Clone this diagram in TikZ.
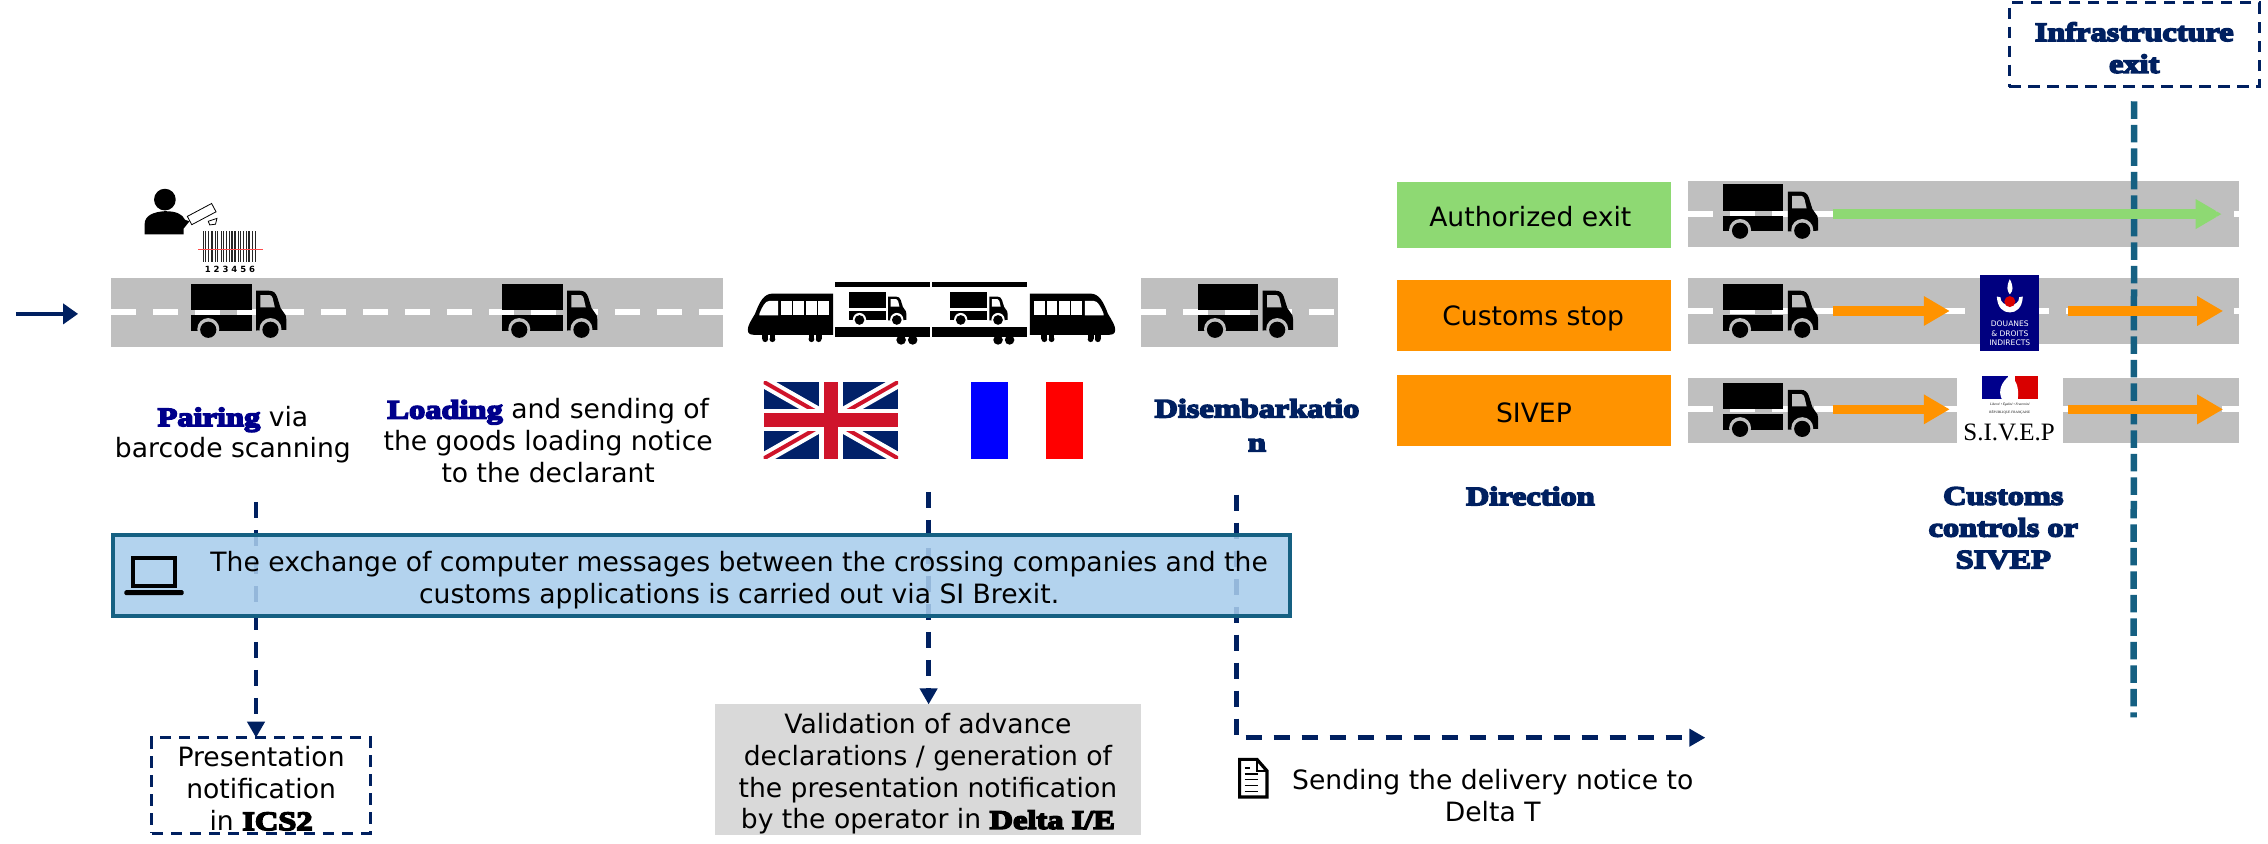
\documentclass[tikz,border=0pt]{standalone}
\usepackage{fontspec}
\setmainfont{DejaVu Sans}
\newfontfamily\fatraw[FakeStretch=1.22,BoldFeatures={FakeBold=6}]{Liberation Serif}
\newfontfamily\sivepfont{Liberation Serif}
\newcommand{\fatf}{\fatraw\bfseries}
\usetikzlibrary{arrows.meta}
\definecolor{navy}{HTML}{002060}
\definecolor{kwblue}{HTML}{00008B}
\definecolor{teal}{HTML}{156082}
\definecolor{roadgray}{HTML}{BFBFBF}
\definecolor{boxblue}{HTML}{A9CDEC}
\definecolor{lgray}{HTML}{D9D9D9}
\definecolor{okgreen}{HTML}{8ED973}
\definecolor{stoporange}{HTML}{FF9300}
\definecolor{douane}{HTML}{00007F}
\definecolor{ukblue}{HTML}{012169}
\definecolor{ukred}{HTML}{CF142B}
\tikzset{
  wh/.style 2 args={minimum width=#1*1.4464pt,minimum height=#2*1.4464pt,inner sep=0pt,outer sep=0pt},
  body/.style={font=\fontsize{26.6}{31.8}\selectfont,align=center,text=black},
  title/.style={font=\fontsize{26.5}{31.8}\fatf,align=center,text=navy},
  road/.style={fill=roadgray},
  lane/.style={draw=white,line width=6pt,dash pattern=on 24.5pt off 17.5pt},
  navydash/.style={draw=navy,line width=4.5pt,dash pattern=on 16pt off 12pt,-{Triangle[length=16pt,width=17pt]}},
  dashbox/.style={draw=navy,line width=3pt,dash pattern=on 11.5pt off 7.5pt},
  fatarrow/.style={line width=9.5pt,-{Triangle[length=26pt,width=28pt]}},
  pics/truck/.style={code={
    \fill[black] (0,0) rectangle (42,18.5);
    \fill[black] (0,22) rectangle (42,32.5);
    \fill[black] (45,5) -- (54,5) .. controls (57,5) and (58.5,6.5) .. (59.5,9) -- (62,17) -- (65.5,22) -- (66,25) -- (66,32) -- (45,32.5) -- cycle;
    \fill[#1] (48,8) -- (54.5,8) .. controls (55.5,8) and (56,9) .. (56.5,10) -- (58,16.5) -- (48,16.5) -- cycle;
    \fill[#1] (12,31.5) circle (7.6);
    \fill[#1] (55,31.5) circle (7.6);
    \fill[black] (12,32) circle (5.6);
    \fill[black] (55,32) circle (5.6);
  }},
  pics/truck/.default=roadgray,
  pics/railcar/.style={code={
    \fill[black] (59,7) -- (17,7) .. controls (11,7) and (8,13) .. (5,21) .. controls (2,26) and (0,29) .. (0,32) .. controls (0,35) and (2,35.5) .. (5,35.5) -- (59,35.5) -- cycle;
    \fill[white] (8,21) .. controls (10,16) and (12,12) .. (15,12) -- (21,12) -- (21,22) -- (8,22) -- cycle;
    \foreach \wx in {23,31.5,40,48.5}{\fill[white] (\wx,12) rectangle ++(7.5,10);}
    \foreach \wx in {10,15,42,47}{\fill[black] (\wx,34) rectangle ++(4,4.5);\fill[black] (\wx+2,38.5) circle (2);}
  }},
  pics/wagon/.style={code={
    \fill[black] (0,0) rectangle (66,3.5);
    \fill[black] (0,31) rectangle (66,38);
    \foreach \wx in {46,54}{\fill[black] (\wx,40) circle (3.3);}
  }}
}
\begin{document}
\begin{tikzpicture}[x=1.4464pt,y=-1.4464pt]
\useasboundingbox (0,0) rectangle (1568,583);

% entry arrow
\coordinate (inA) at (11,217);
\coordinate (inB) at (54,217);
\draw[navy,line width=4.5pt,-{Triangle[length=15pt,width=20pt]}] (inA) -- (inB);

% operator, camera and bar code
\fill[black] (114,138) circle (7.5);
\fill[black] (100,162) -- (100,155) .. controls (100,149) and (106,146.5) .. (114,146) .. controls (122,146) and (126,148) .. (128,152) -- (131,153) -- (127,158) -- (127,162) -- cycle;
\draw[black,line width=.8pt,fill=white,rotate around={28:(140,148)}] (130,144.5) rectangle (149,151);
\draw[black,line width=.8pt,fill=white] (144,153) -- (150,151) -- (149,155) -- (145,155.5) -- cycle;
\foreach \bx/\bw in {140/1,142/.6,144/.6,146/1.2,148.5/.6,150/1,152.5/.6,154/1.2,156.5/.6,158/.6,160/1,162/1.2,164.5/.6,166/.6,168/1,170/.6,171.5/1.2,174/.6,176/1}{
  \fill[black!85] (\bx,160) rectangle ++(\bw,21);}
\draw[red!70,line width=1.4pt] (137,172.5) -- (182,172.5);
\node[inner sep=0pt,font=\fontsize{8.5}{9}\selectfont\bfseries] (digits) at (159,186) {1 2 3 4 5 6};

% roads, left side
\fill[road] (77,192) rectangle (500,240);
\draw[lane] (77,215.5) -- (500,215.5);
\fill[road] (789,192) rectangle (925,240);
\draw[lane] (789,215.5) -- (925,215.5);
\pic at (132,196) {truck};
\pic at (347,196) {truck};
\pic at (828,196) {truck};

% train
\pic at (517,196) {railcar};
\pic[xscale=-1] at (771,196) {railcar};
\pic at (577,195) {wagon};
\pic at (644,195) {wagon};
\pic[scale=.6] at (587,202) {truck=white};
\pic[scale=.6] at (657,202) {truck=white};

% flags
\begin{scope}
\clip (528,264) rectangle (621,317);
\fill[ukblue] (528,264) rectangle (621,317);
\draw[white,line width=12pt] (528,264) -- (621,317) (528,317) -- (621,264);
\draw[ukred,line width=4pt] (528,264) -- (621,317) (528,317) -- (621,264);
\fill[white] (528,283) rectangle (621,298);
\fill[white] (566.5,264) rectangle (582.5,317);
\fill[ukred] (528,285.5) rectangle (621,295.5);
\fill[ukred] (569.5,264) rectangle (579.5,317);
\end{scope}
\fill[blue] (671,264) rectangle (697,317);
\fill[red] (723,264) rectangle (749,317);

% labels
\node[body] (pairing) at (161,300.5) {{\fatf\color{kwblue}Pairing} via\\barcode scanning};
\node[body] (loading) at (379,304.5) {{\fatf\color{kwblue}Loading} and sending of\\the goods loading notice\\to the declarant};
\node[title,font=\fontsize{26.5}{34}\fatf] (disemb) at (869,294) {Disembarkatio\\n};
\node[title] (direction) at (1058,343) {Direction};
\node[title] (controls) at (1385,365) {Customs\\controls or\\SIVEP};

% dashed connectors (under the translucent box)
\coordinate (pairFoot) at (177,347);
\coordinate (flagFoot) at (642,340);
\coordinate (disFoot) at (855,342);
\coordinate (deliveryEnd) at (1179,510);
\node[dashbox,wh={151}{66},at={(180.5,543)}] (ics) {};
\node[body] (icstext) at (180.5,545) {Presentation\\notification\\in {\fatf ICS2}\hspace{1.2em}};
\node[fill=lgray,wh={295}{90},at={(641.5,532)}] (validation) {};
\node[body] (validationtext) at (641.5,535) {Validation of advance\\declarations / generation of\\the presentation notification\\by the operator in {\fatf Delta I/E}};
\draw[navydash] (pairFoot) -- (ics.north -| pairFoot);
\draw[navydash] (flagFoot) -- (validation.north -| flagFoot);
\draw[navydash] (disFoot) |- (deliveryEnd);

% exchange box
\node[draw=teal,line width=4.5pt,fill=boxblue,fill opacity=.88,text opacity=1,draw opacity=1,wh={814}{56},at={(485,398)}] (exchange) {};
\node[body] (exchangetext) at (511,401) {The exchange of computer messages between the crossing companies and the\\customs applications is carried out via SI Brexit.};
% laptop
\draw[black,line width=4pt] (92,385.5) rectangle (121,405);
\fill[black,rounded corners=1.5pt] (86,408) -- (127,408) -- (127,411.5) -- (86,411.5) -- cycle;

% delivery notice
\draw[black,line width=3.2pt,line join=miter] (857,525) -- (869,525) -- (876,533) -- (876,551) -- (857,551) -- cycle;
\draw[black,line width=2pt] (869,525) -- (869,533) -- (876,533);
\foreach \ly/\lx in {531/864,535/870,539/870,543/870,547/870}{\draw[black,line width=1.4pt] (860.5,\ly) -- (\lx,\ly);}
\node[body] (delivery) at (1032,550) {Sending the delivery notice to\\Delta T};

% legend
\node[fill=okgreen,wh={189}{46},at={(1060.5,148.5)}] (authorized) {};
\node[fill=stoporange,wh={189}{49},at={(1060.5,218)}] (customsstop) {};
\node[fill=stoporange,wh={189}{49},at={(1060.5,283.5)}] (sivep) {};
\node[body] (authorizedtext) at (1058,149.5) {Authorized exit};
\node[body] (customstext) at (1060,220) {Customs stop};
\node[body] (siveptext) at (1060.5,285.5) {SIVEP};

% right roads
\fill[road] (1167,125) rectangle (1548,171);
\draw[lane] (1167,148) -- (1548,148);
\fill[road] (1167,192) rectangle (1548,238);
\draw[lane] (1167,215) -- (1548,215);
\fill[road] (1167,261) rectangle (1353,306);
\fill[road] (1426,261) rectangle (1548,306);
\draw[lane] (1167,283) -- (1353,283);
\draw[white,line width=6pt] (1426,283) -- (1430,283);
\draw[white,line width=6pt] (1536,283) -- (1548,283);
\pic at (1191,127.5) {truck};
\pic at (1191,196) {truck};
\pic at (1191,264.5) {truck};

% logos
\node[fill=douane,wh={41}{53},at={(1389.5,216.5)}] (douanes) {};
\fill[white] (1389.5,193) .. controls (1387,198) and (1387.5,201) .. (1389.5,203.5) .. controls (1392,201) and (1392,198) .. (1389.5,193) -- cycle;
\fill[white] (1380.5,205) .. controls (1381,213) and (1385,216) .. (1389.5,216) .. controls (1394,216) and (1398,213) .. (1398.5,205) -- (1396,205.5) .. controls (1396,209) and (1393,211) .. (1389.5,211) .. controls (1386,211) and (1383,209) .. (1383,205.5) -- cycle;
\fill[red!85!black] (1389.5,208.5) circle (3.8);
\node[inner sep=0pt,text=white,align=center,font=\fontsize{7.6}{9.2}\selectfont] (douanestext) at (1389.5,230.5) {DOUANES\\\& DROITS\\INDIRECTS};
\fill[blue!55!black] (1370,260) rectangle (1388,276);
\fill[red!85!black] (1393,260) rectangle (1409,276);
\fill[white] (1389,260) .. controls (1394,262) and (1396,268) .. (1395,276) -- (1384,276) .. controls (1381,270) and (1384,264) .. (1389,260) -- cycle;
\node[inner sep=0pt,font=\fontsize{3.4}{4}\sivepfont\itshape] (devise) at (1389.5,279.5) {Liberté • Égalité • Fraternité};
\node[inner sep=0pt,font=\fontsize{3.4}{4}\sivepfont] (republique) at (1389.5,285) {RÉPUBLIQUE FRANÇAISE};
\node[inner sep=0pt,font=\fontsize{25}{28}\sivepfont] (sivepname) at (1389,299) {S.I.V.E.P};

% exit line and box
\node[dashbox,wh={173}{58},at={(1475.5,31)}] (exitbox) {};
\node[title] (exittext) at (1475.5,33) {Infrastructure\\exit};
\coordinate (lineEnd) at (1475,496);
\draw[teal,line width=6.5pt,dash pattern=on 17.7pt off 5.8pt] (exitbox.south |- 0,70) -- (lineEnd);

% direction arrows
\coordinate (g1) at (1267,148);\coordinate (g2) at (1536,148);
\coordinate (o1) at (1267,215);\coordinate (o2) at (1348,215);
\coordinate (o3) at (1430,215);\coordinate (o4) at (1537,215);
\coordinate (o5) at (1267,283);\coordinate (o6) at (1348,283);
\coordinate (o7) at (1430,283);\coordinate (o8) at (1537,283);
\draw[okgreen,fatarrow] (g1) -- (g2);
\draw[stoporange,fatarrow] (o1) -- (o2);
\draw[stoporange,fatarrow] (o3) -- (o4);
\draw[stoporange,fatarrow] (o5) -- (o6);
\draw[stoporange,fatarrow] (o7) -- (o8);
\end{tikzpicture}
\end{document}
